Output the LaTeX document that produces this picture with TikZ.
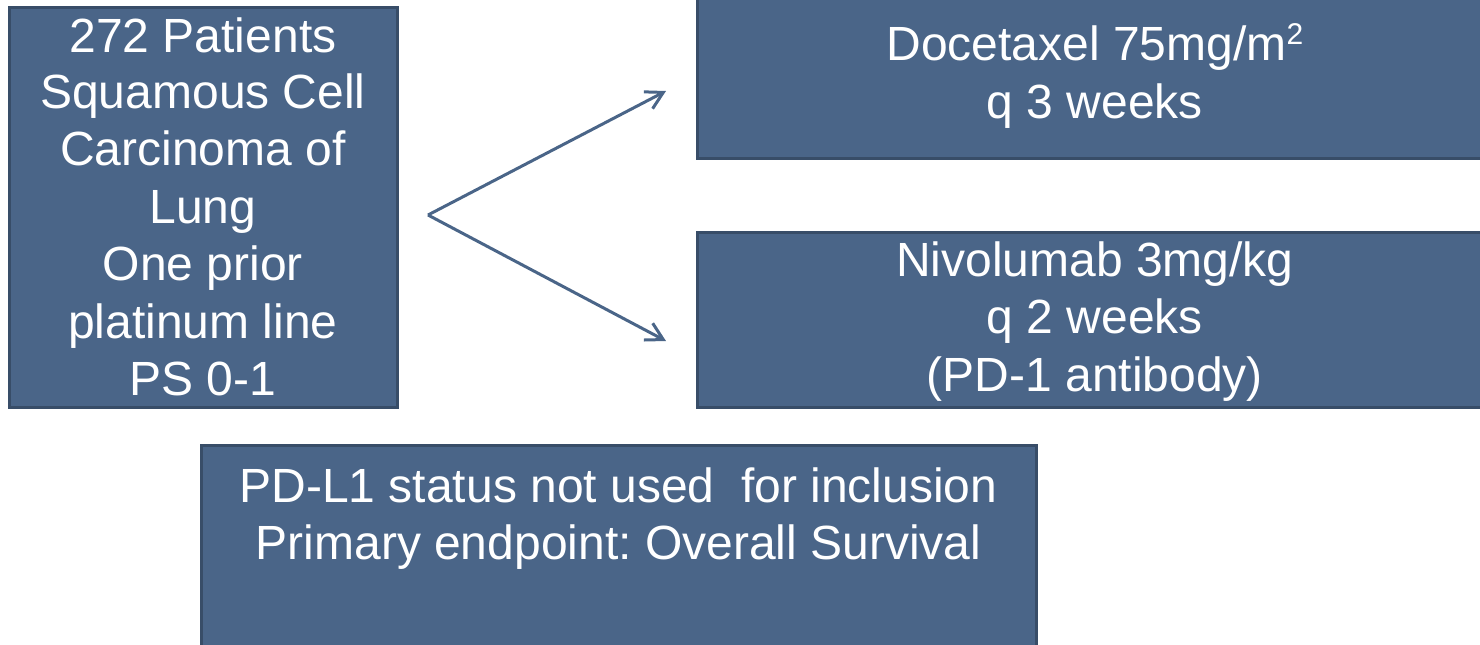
\documentclass[tikz,border=0pt]{standalone}
\usepackage{fontspec}
\setmainfont{Liberation Sans}
\usetikzlibrary{arrows.meta}
\frenchspacing
\definecolor{boxfill}{RGB}{74,101,136}
\definecolor{boxedge}{RGB}{56,77,104}
\definecolor{arrowcol}{RGB}{74,101,136}
\newcommand{\sqexp}{\raisebox{0.62ex}{\fontsize{15pt}{15pt}\selectfont 2}}
\tikzset{
  panel/.style={draw=boxedge, fill=boxfill, line width=1.5pt, inner sep=0pt,
    text=white, align=center,
    font=\fontsize{24pt}{28.75pt}\selectfont},
  branch/.style={draw=arrowcol, line width=1.5pt,
    -{Straight Barb[length=8.5pt,width=9.5pt,line width=1.5pt]}}
}
\begin{document}
\begin{tikzpicture}[x=0.5pt,y=-0.5pt]
\useasboundingbox (0,0) rectangle (1480,644);
\clip (0,0) rectangle (1480,644);
\node[panel, minimum width=194pt, minimum height=200pt] (pop) at (203,207)
  {\raisebox{-1pt}{272 Patients}\\Squamous Cell\\Carcinoma of\\Lung\\One prior\\platinum line\\PS 0-1};
\node[panel, minimum width=398pt, minimum height=84pt] (doc) at (1095,74)
  {};
\node[white, font=\fontsize{24pt}{28.75pt}\selectfont, align=center] (doctext) at (1095,76)
  {Docetaxel 75mg/m\sqexp\\q 3 weeks};
\node[panel, minimum width=398pt, minimum height=87.5pt] (nivo) at (1095,319.5)
  {};
\node[white, font=\fontsize{24pt}{28.75pt}\selectfont, align=center] (nivotext) at (1095,321.5)
  {Nivolumab 3mg/kg\\q 2 weeks\\(PD-1 antibody)};
\node[panel, minimum width=417.5pt, minimum height=104pt] (note) at (618.5,549)
  {};
\node[white, font=\fontsize{24pt}{28.75pt}\selectfont, align=center] (notetext) at (618.5,551)
  {PD-L1 status not used\ \ for inclusion\\Primary endpoint: Overall Survival\\\strut};
\coordinate (split) at (428,215);
\coordinate (toDoc) at (666,91);
\coordinate (toNivo) at (666,341);
\draw[branch] (split) -- (toDoc);
\draw[branch] (split) -- (toNivo);
\end{tikzpicture}
\end{document}
